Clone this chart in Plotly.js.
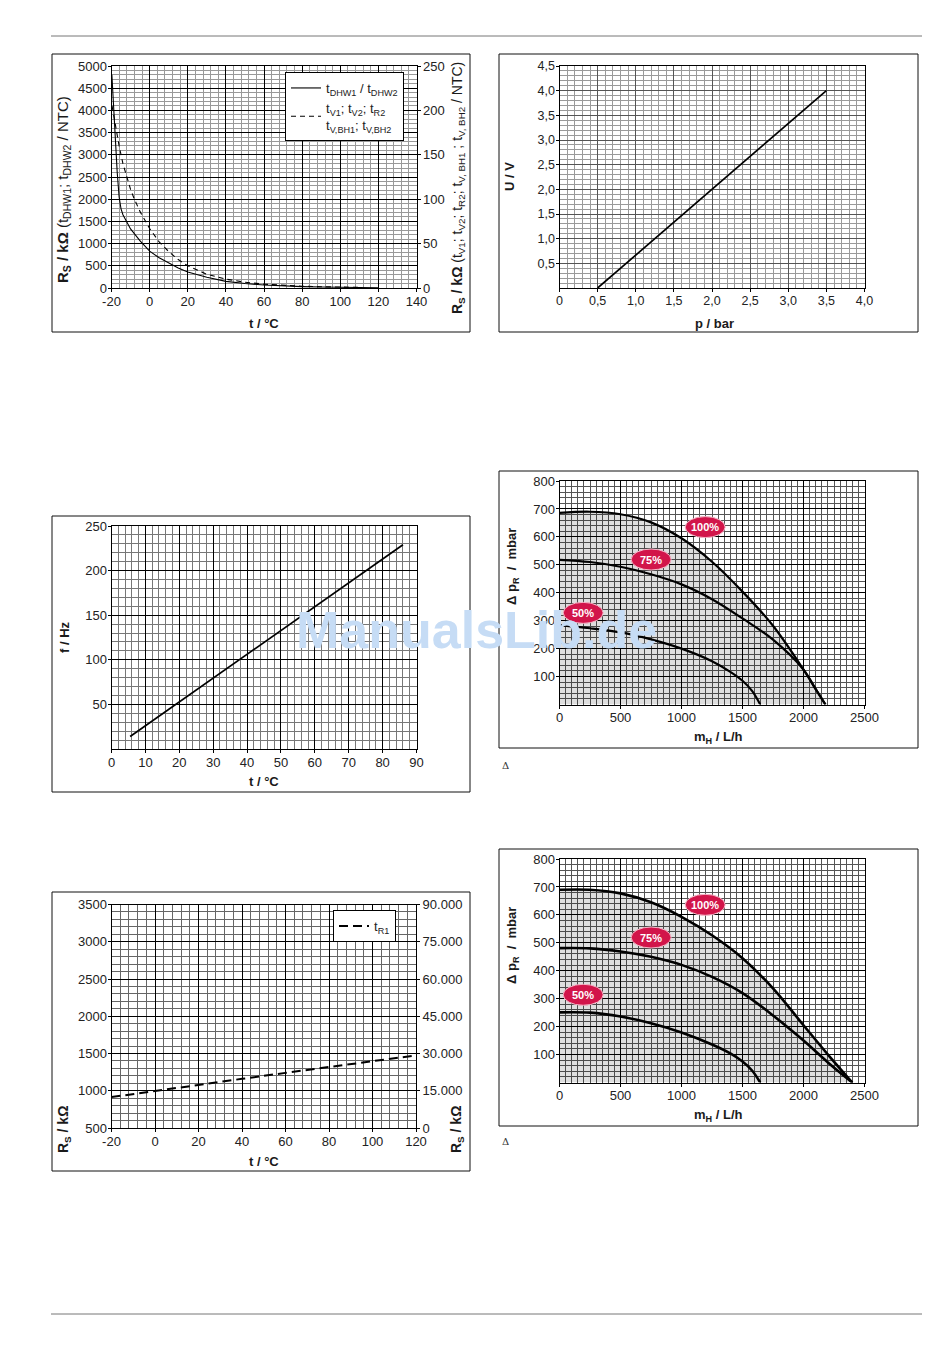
<!DOCTYPE html>
<html>
<head>
<meta charset="utf-8">
<script src="https://cdn.plot.ly/plotly-3.0.1.min.js"></script>
<style>
  html, body { margin: 0; padding: 0; background: #fff; }
  #chart { width: 950px; height: 1360px; }
</style>
</head>
<body>
<div id="chart"></div>
<script>
// ---------- DATA ----------
// Chart 1: NTC sensors
const c1TempSolid = [-19.8, -19, -18, -17, -16, -15, -14, -12, -10, -5, 0, 5, 10, 15, 20, 30, 40, 50, 60, 70, 80, 90, 100, 110, 120];
const c1RsDHW     = [4800, 4100, 3300, 2600, 2050, 1780, 1650, 1500, 1330, 1060, 830, 680, 560, 450, 360, 240, 150, 100, 68, 46, 32, 22, 15, 10, 7];
const c1TempDashed = [-19.7, -18, -16, -14, -12, -10, -8, -5, 0, 5, 10, 15, 20, 30, 40, 50, 60, 70, 80, 90, 100, 110];
const c1RsV        = [205, 182, 160, 140, 124, 111, 100, 86, 67, 52, 41, 32, 25, 15.5, 10, 6.5, 4.3, 3, 2, 1.4, 1, 0.7];
const c1XTicks  = [-20, 0, 20, 40, 60, 80, 100, 120, 140];
const c1XLabels = ['-20', '0', '20', '40', '60', '80', '100', '120', '140'];
const c1Names = ['t<sub>DHW1</sub> / t<sub>DHW2</sub>', 't<sub>V1</sub>; t<sub>V2</sub>; t<sub>R2</sub><br>t<sub>V,BH1</sub>; t<sub>V,BH2</sub>'];

// Chart 2: pressure sensor
const c2Pressure = [0.5, 3.5];
const c2Voltage  = [0, 4.0];
const c2XTicks  = [0, 0.5, 1.0, 1.5, 2.0, 2.5, 3.0, 3.5, 4.0];
const c2XLabels = ['0', '0,5', '1,0', '1,5', '2,0', '2,5', '3,0', '3,5', '4,0'];
const c2YTicks  = [0.5, 1.0, 1.5, 2.0, 2.5, 3.0, 3.5, 4.0, 4.5];
const c2YLabels = ['0,5', '1,0', '1,5', '2,0', '2,5', '3,0', '3,5', '4,0', '4,5'];

// Chart 3: frequency sensor
const c3Temp = [5.5, 86];
const c3Freq = [14, 229];
const c3YTicks = [50, 100, 150, 200, 250];

// Chart 4: tR1
const c4Temp = [-20, 0, 20, 40, 60, 80, 100, 120];
const c4Rs   = [915, 1000, 1080, 1160, 1240, 1315, 1395, 1475];
const c4XTicks  = [-20, 0, 20, 40, 60, 80, 100, 120];
const c4XLabels = ['-20', '0', '20', '40', '60', '80', '100', '120'];
const c4RightTicks  = [0, 15000, 30000, 45000, 60000, 75000, 90000];
const c4RightLabels = ['0', '15.000', '30.000', '45.000', '60.000', '75.000', '90.000'];
const c4Name = 't<sub>R1</sub>';

// Chart 5: pump curves (1)
const c5Flow100 = [0, 250, 500, 750, 1000, 1250, 1500, 1750, 2000, 2100, 2180];
const c5Dp100   = [686, 690, 681, 652, 595, 511, 404, 282, 125, 55, 0];
const c5Flow75  = [0, 250, 500, 750, 1000, 1250, 1500, 1750, 2000, 2100, 2180];
const c5Dp75    = [518, 510, 493, 466, 430, 377, 308, 232, 125, 55, 0];
const c5Flow50  = [0, 250, 500, 750, 1000, 1250, 1400, 1500, 1580, 1645];
const c5Dp50    = [284, 273, 258, 233, 200, 155, 117, 85, 48, 0];
const c5LabelX = [1194, 751, 194];
const c5LabelY = [635, 519, 328];

// Chart 6: pump curves (2)
const c6Flow100 = [0, 250, 500, 750, 1000, 1250, 1500, 1750, 2000, 2200, 2400];
const c6Dp100   = [690, 690, 677, 645, 593, 527, 445, 337, 205, 100, 0];
const c6Flow75  = [0, 250, 500, 750, 1000, 1250, 1500, 1750, 2000, 2200, 2400];
const c6Dp75    = [481, 480, 469, 450, 421, 378, 320, 240, 150, 72, 0];
const c6Flow50  = [0, 250, 500, 750, 1000, 1250, 1400, 1500, 1580, 1645];
const c6Dp50    = [251, 250, 236, 212, 179, 136, 104, 75, 42, 0];
const c6LabelX = [1194, 751, 194];
const c6LabelY = [636, 519, 314];

const pumpLabels = ['100%', '75%', '50%'];
const pumpYTicks = [100, 200, 300, 400, 500, 600, 700, 800];

// ---------- LAYOUT HELPERS ----------
const W = 950, H = 1360;
const FONT = 'Liberation Sans, Arial, Helvetica, sans-serif';
const dx = (a, b) => [a / W, b / W];
const dy = (top, bottom) => [1 - bottom / H, 1 - top / H];
const tickFont = { family: FONT, size: 13, color: '#222' };
const tickFont2 = { family: FONT, size: 12.5, color: '#222' };

function axis(extra, major, minorColor, minorOpts) {
  const a = Object.assign({
    showline: true, mirror: true, linecolor: '#000', linewidth: 1,
    ticks: 'outside', ticklen: 3, tickcolor: '#000', tickwidth: 1, ticklabelstandoff: -2,
    showgrid: true, gridcolor: major, gridwidth: 1,
    zeroline: false, fixedrange: true, tickfont: tickFont,
  }, extra);
  if (minorOpts) {
    a.minor = Object.assign({ showgrid: true, gridcolor: minorColor, gridwidth: 1, ticks: '' }, minorOpts);
  }
  return a;
}
function rightAxis(extra) {
  return Object.assign({ side: 'right', showgrid: false, zeroline: false, showline: false,
    ticks: 'outside', ticklen: 3, tickcolor: '#000', tickfont: tickFont, fixedrange: true }, extra);
}

const pumpLine = (w) => ({ color: '#000', width: w, shape: 'spline', smoothing: 1 });

const traces = [
  // chart 1
  { x: c1TempSolid, y: c1RsDHW, xaxis: 'x', yaxis: 'y', mode: 'lines', name: c1Names[0],
    line: { color: '#000', width: 1.1 }, legend: 'legend' },
  { x: c1TempDashed, y: c1RsV, xaxis: 'x', yaxis: 'y2', mode: 'lines', name: c1Names[1],
    line: { color: '#000', width: 1.1, dash: '5px,4px' }, legend: 'legend' },
  // chart 2
  { x: c2Pressure, y: c2Voltage, xaxis: 'x2', yaxis: 'y3', mode: 'lines', showlegend: false,
    line: { color: '#000', width: 1.7 } },
  // chart 3
  { x: c3Temp, y: c3Freq, xaxis: 'x3', yaxis: 'y4', mode: 'lines', showlegend: false,
    line: { color: '#000', width: 1.7 } },
  // chart 4
  { x: c4Temp, y: c4Rs, xaxis: 'x4', yaxis: 'y5', mode: 'lines', name: c4Name,
    line: { color: '#000', width: 2, dash: '9px,5px' }, legend: 'legend2' },
  { x: [], y: [], xaxis: 'x4', yaxis: 'y6', mode: 'lines', showlegend: false, hoverinfo: 'skip' },
  // chart 5
  { x: c5Flow100, y: c5Dp100, xaxis: 'x5', yaxis: 'y7', mode: 'lines', showlegend: false,
    fill: 'tozeroy', fillcolor: 'rgba(0,0,0,0.13)', line: pumpLine(2.2) },
  { x: c5Flow75, y: c5Dp75, xaxis: 'x5', yaxis: 'y7', mode: 'lines', showlegend: false, line: pumpLine(2.2) },
  { x: c5Flow50, y: c5Dp50, xaxis: 'x5', yaxis: 'y7', mode: 'lines', showlegend: false, line: pumpLine(2.2) },
  // chart 6
  { x: c6Flow100, y: c6Dp100, xaxis: 'x6', yaxis: 'y8', mode: 'lines', showlegend: false,
    fill: 'tozeroy', fillcolor: 'rgba(0,0,0,0.13)', line: pumpLine(2.6) },
  { x: c6Flow75, y: c6Dp75, xaxis: 'x6', yaxis: 'y8', mode: 'lines', showlegend: false, line: pumpLine(2.6) },
  { x: c6Flow50, y: c6Dp50, xaxis: 'x6', yaxis: 'y8', mode: 'lines', showlegend: false, line: pumpLine(2.6) },
];

const layout = {
  width: W, height: H,
  margin: { l: 0, r: 0, t: 0, b: 0 },
  paper_bgcolor: '#fff', plot_bgcolor: '#fff',
  font: { family: FONT, size: 13, color: '#222' },
  showlegend: true,
  // chart 1
  xaxis: axis({ domain: dx(111.5, 416.5), range: [-20, 140], anchor: 'y', tickmode: 'array', tickvals: c1XTicks, ticktext: c1XLabels }, '#000', '#999', { tickmode: 'linear', tick0: 0, dtick: 4 }),
  yaxis: axis({ domain: dy(66, 288), range: [0, 5000], anchor: 'x', tickmode: 'linear', tick0: 0, dtick: 500 }, '#000', '#999', { tickmode: 'linear', tick0: 0, dtick: 100 }),
  yaxis2: rightAxis({ overlaying: 'y', anchor: 'x', range: [0, 250], tickmode: 'linear', tick0: 0, dtick: 50 }),
  // chart 2
  xaxis2: axis({ domain: dx(559.5, 864.5), range: [0, 4], anchor: 'y3', tickmode: 'array', tickvals: c2XTicks, ticktext: c2XLabels, tickfont: tickFont2 }, '#555', '#9a9a9a', { tickmode: 'linear', tick0: 0, dtick: 0.1 }),
  yaxis3: axis({ domain: dy(66, 288), range: [0, 4.5], anchor: 'x2', tickmode: 'array', tickvals: c2YTicks, ticktext: c2YLabels, tickfont: tickFont2 }, '#555', '#9a9a9a', { tickmode: 'linear', tick0: 0, dtick: 0.1 }),
  // chart 3
  xaxis3: axis({ domain: dx(111.5, 416.5), range: [0, 90], anchor: 'y4', tickmode: 'linear', tick0: 0, dtick: 10 }, '#000', '#777', { tickmode: 'linear', tick0: 0, dtick: 2 }),
  yaxis4: axis({ domain: dy(526, 749), range: [0, 250], anchor: 'x3', tickmode: 'array', tickvals: c3YTicks }, '#000', '#777', { tickmode: 'linear', tick0: 0, dtick: 10 }),
  // chart 4
  xaxis4: axis({ domain: dx(111.5, 416), range: [-20, 120], anchor: 'y5', tickmode: 'array', tickvals: c4XTicks, ticktext: c4XLabels }, '#000', '#666', { tickmode: 'linear', tick0: 0, dtick: 4 }),
  yaxis5: axis({ domain: dy(904.5, 1128), range: [500, 3500], anchor: 'x4', tickmode: 'linear', tick0: 500, dtick: 500 }, '#000', '#666', { tickmode: 'linear', tick0: 500, dtick: 100 }),
  yaxis6: rightAxis({ overlaying: 'y5', anchor: 'x4', range: [0, 90000], tickmode: 'array', tickvals: c4RightTicks, ticktext: c4RightLabels }),
  // chart 5
  xaxis5: axis({ domain: dx(559.5, 864.5), range: [0, 2500], anchor: 'y7', tickmode: 'linear', tick0: 0, dtick: 500 }, '#000', '#555', { tickmode: 'linear', tick0: 0, dtick: 50 }),
  yaxis7: axis({ domain: dy(481, 704.5), range: [0, 800], anchor: 'x5', tickmode: 'array', tickvals: pumpYTicks }, '#000', '#555', { tickmode: 'linear', tick0: 0, dtick: 20 }),
  // chart 6
  xaxis6: axis({ domain: dx(559.5, 864.5), range: [0, 2500], anchor: 'y8', tickmode: 'linear', tick0: 0, dtick: 500 }, '#000', '#555', { tickmode: 'linear', tick0: 0, dtick: 50 }),
  yaxis8: axis({ domain: dy(859, 1082.5), range: [0, 800], anchor: 'x6', tickmode: 'array', tickvals: pumpYTicks }, '#000', '#555', { tickmode: 'linear', tick0: 0, dtick: 20 }),

  legend: { x: 285 / W, y: 1 - 72 / H, xanchor: 'left', yanchor: 'top', bgcolor: '#fff', bordercolor: '#000', borderwidth: 1,
    font: { family: FONT, size: 13, color: '#222' }, tracegroupgap: 0, itemclick: false },
  legend2: { x: 333 / W, y: 1 - 910 / H, xanchor: 'left', yanchor: 'top', bgcolor: '#fff', bordercolor: '#000', borderwidth: 1,
    font: { family: FONT, size: 13, color: '#222' }, itemclick: false },
  shapes: [],
  annotations: [],
};

// frames and rules
const frames = [[52, 54, 470, 332], [499, 54, 918, 332], [52, 516, 470, 792], [52, 892, 470, 1171], [499, 471, 918, 748], [499, 849, 918, 1126]];
frames.forEach(f => layout.shapes.push({ type: 'rect', xref: 'paper', yref: 'paper', x0: f[0] / W, x1: f[2] / W, y0: 1 - f[3] / H, y1: 1 - f[1] / H,
  line: { color: '#111', width: 1 }, fillcolor: 'rgba(0,0,0,0)', layer: 'below' }));
[36, 1314].forEach(py => layout.shapes.push({ type: 'line', xref: 'paper', yref: 'paper', x0: 51 / W, x1: 922 / W, y0: 1 - py / H, y1: 1 - py / H,
  line: { color: '#777', width: 1 } }));

function note(px, py, text, opts) {
  layout.annotations.push(Object.assign({ xref: 'paper', yref: 'paper', x: px / W, y: 1 - py / H, text: text, showarrow: false,
    xanchor: 'center', yanchor: 'middle', font: { family: FONT, size: 13, color: '#1a1a1a' } }, opts || {}));
}
// watermark first so labels draw over it
note(476, 630, '<b>ManualsLib.de</b>', { font: { family: FONT, size: 52, color: '#c6dcf5' } });

// pump label ellipses
function pumpLabel(xr, yr, xs, ys) {
  xs.forEach((xv, i) => {
    layout.shapes.push({ type: 'circle', xref: xr, yref: yr, xsizemode: 'pixel', ysizemode: 'pixel',
      xanchor: xv, yanchor: ys[i], x0: -20, x1: 20, y0: -10.5, y1: 10.5,
      fillcolor: '#d2154a', line: { color: '#f4b8c8', width: 1 } });
    layout.annotations.push({ xref: xr, yref: yr, x: xv, y: ys[i], text: '<b>' + pumpLabels[i] + '</b>', showarrow: false,
      font: { family: FONT, size: 11, color: '#fff' }, xanchor: 'center', yanchor: 'middle' });
  });
}
pumpLabel('x5', 'y7', c5LabelX, c5LabelY);
pumpLabel('x6', 'y8', c6LabelX, c6LabelY);

const NB = '\u00a0';
const bigT = { family: FONT, size: 14, color: '#1a1a1a' };
note(264, 323, '<b>t / °C</b>');
note(64, 190, '<b>R<sub>S</sub> / kΩ</b> (t<sub>DHW1</sub>;' + NB + 't<sub>DHW2</sub> / NTC)', { textangle: -90, font: { family: FONT, size: 15, color: '#1a1a1a' } });
note(458, 188, '<b>R<sub>S</sub> / kΩ</b> (t<sub>V1</sub>; t<sub>V2</sub>; t<sub>R2</sub>; t<sub>V, BH1</sub> ; t<sub>V, BH2</sub> / NTC)', { textangle: -90, font: bigT });
note(510, 177, '<b>U / V</b>', { textangle: -90 });
note(714, 323, '<b>p / bar</b>');
note(64, 637, '<b>f / Hz</b>', { textangle: -90 });
note(264, 782, '<b>t / °C</b>');
note(264, 1161, '<b>t / °C</b>');
note(64, 1130, '<b>R<sub>S</sub> / kΩ</b>', { textangle: -90, font: bigT });
note(457, 1130, '<b>R<sub>S</sub> / kΩ</b>', { textangle: -90, font: bigT });
note(512, 567, '<b>Δ p<sub>R</sub>' + NB + NB + '/' + NB + NB + 'mbar</b>', { textangle: -90 });
note(718, 737, '<b>m<sub>H</sub> / L/h</b>');
note(512, 946, '<b>Δ p<sub>R</sub>' + NB + NB + '/' + NB + NB + 'mbar</b>', { textangle: -90 });
note(718, 1115, '<b>m<sub>H</sub> / L/h</b>');
note(505, 765, 'Δ', { font: { family: 'DejaVu Serif, serif', size: 10, color: '#333' } });
note(505, 1141, 'Δ', { font: { family: 'DejaVu Serif, serif', size: 10, color: '#333' } });

Plotly.newPlot('chart', traces, layout, { staticPlot: true, displayModeBar: false });
</script>
</body>
</html>
